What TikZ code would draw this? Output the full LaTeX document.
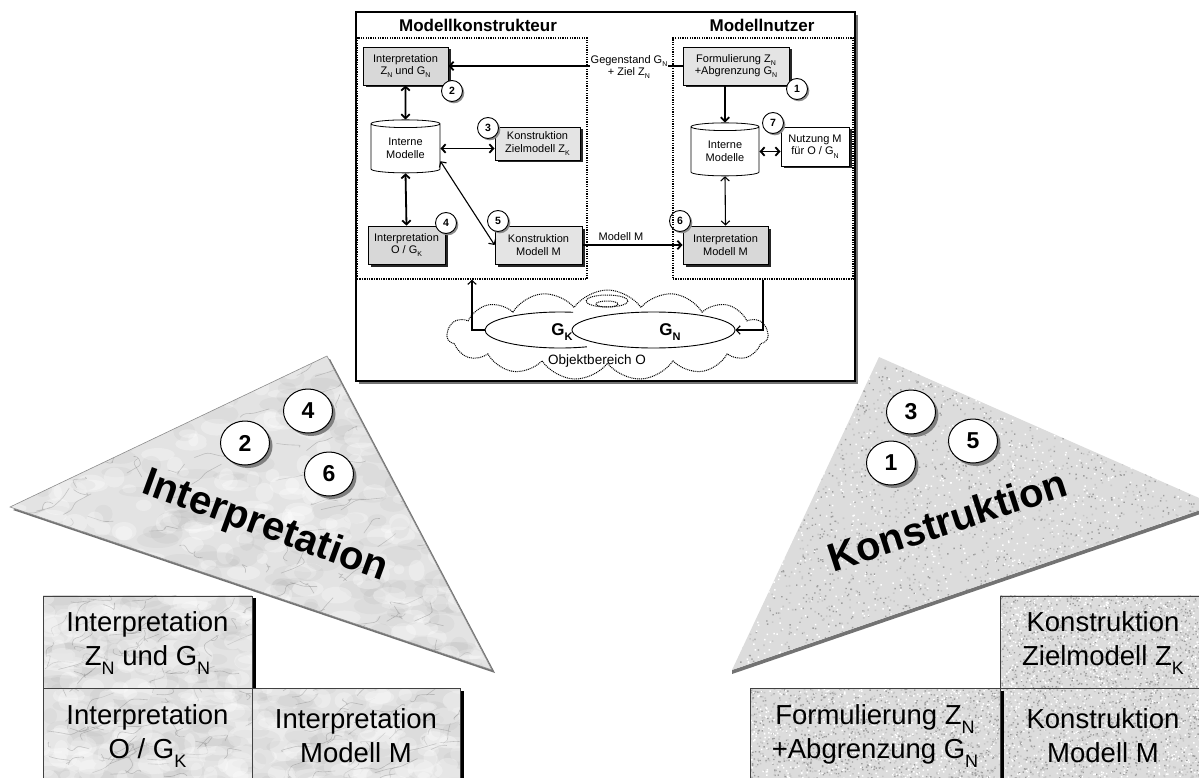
\documentclass[tikz,border=0pt]{standalone}
\usepackage{fontspec}
\setmainfont{Liberation Sans}
\usetikzlibrary{shapes.geometric,shapes.symbols,shadows,arrows.meta}

\definecolor{marblebase}{HTML}{E3E3E3}
\definecolor{granitebase}{HTML}{DCDCDC}
\definecolor{boxmarble}{HTML}{D8D8D8}
\definecolor{boxgranite}{HTML}{E4E4E4}

% lowered index letter in a given size
\newcommand{\lo}[2]{\raisebox{-0.3em}{\fontsize{#1}{#1}\selectfont #2}}

% marble texture inside the current clip: x0 y0 x1 y1 chunks (of 30 marks)
\newcommand{\marbletex}[5]{%
  \foreach \j in {1,...,#5}{%
    \fill[black!50, opacity=0.07] \foreach \k in {1,...,30} {({#1+rnd*(#3-#1)},{#2+rnd*(#4-#2)}) ellipse[x radius={6+16*rnd}, y radius={4+7*rnd}]};
    \fill[white, opacity=0.3] \foreach \k in {1,...,30} {({#1+rnd*(#3-#1)},{#2+rnd*(#4-#2)}) ellipse[x radius={5+12*rnd}, y radius={4+7*rnd}]};
    \draw[black!60, opacity=0.3, line width=0.6pt, line join=round, rounded corners=3pt] \foreach \k in {1,...,16} {({#1+rnd*(#3-#1)},{#2+rnd*(#4-#2)}) -- ++({24*rnd-6},{14*rnd-10}) -- ++({24*rnd-6},{14*rnd-10}) -- ++({24*rnd-6},{14*rnd-10})};
  }%
}
% granite texture inside the current clip: x0 y0 x1 y1 chunks (of 60 grains)
\newcommand{\granitetex}[5]{%
  \foreach \j in {1,...,#5}{%
    \fill[black!38] \foreach \k in {1,...,60} {({#1+rnd*(#3-#1)},{#2+rnd*(#4-#2)}) rectangle ++(1.4,1.4)};
    \fill[white] \foreach \k in {1,...,60} {({#1+rnd*(#3-#1)},{#2+rnd*(#4-#2)}) rectangle ++(1.5,1.5)};
    \fill[black!22] \foreach \k in {1,...,60} {({#1+rnd*(#3-#1)},{#2+rnd*(#4-#2)}) rectangle ++(1.6,1.6)};
  }%
}

\tikzset{
  frameline/.style={draw=black, line width=1.5pt, fill=white},
  dotline/.style={draw=black, line width=1.4pt, dash pattern=on 1.3pt off 1.1pt},
  title/.style={font=\fontsize{17}{17}\selectfont\bfseries, inner sep=0pt},
  smallbox/.style={rectangle, draw=black, line width=0.8pt, inner sep=1pt, align=center,
    font=\fontsize{11}{12.5}\selectfont,
    drop shadow={shadow xshift=2.5pt, shadow yshift=-2.5pt, fill=black!85, opacity=1}},
  num/.style={circle, draw=black, line width=0.9pt, fill=white, minimum size=21pt, inner sep=0pt,
    font=\fontsize{10.5}{10.5}\selectfont\bfseries,
    drop shadow={shadow xshift=1.8pt, shadow yshift=-1.8pt, fill=black!45, opacity=1}},
  bignum/.style={ellipse, draw=black, line width=1pt, fill=white, minimum width=49pt, minimum height=44pt,
    inner sep=0pt, font=\fontsize{23}{23}\selectfont\bfseries,
    drop shadow={shadow xshift=3pt, shadow yshift=-3pt, fill=black!50, opacity=1}},
  store/.style={cylinder, shape border rotate=90, aspect=0.2, draw=black, line width=0.8pt, fill=white,
    minimum width=69pt, minimum height=53pt, align=center, inner sep=0pt,
    font=\fontsize{11}{13}\selectfont},
  tip/.tip={Straight Barb[length=4pt,width=8.5pt]},
  arr/.style={line width=1.8pt, -tip},
  darr/.style={line width=1.8pt, tip-tip},
  thinarr/.style={line width=1.1pt, -tip},
  thindarr/.style={line width=1.1pt, tip-tip},
  lbl/.style={font=\fontsize{11}{12.5}\selectfont, align=center, inner sep=1pt},
  cloudy/.style={cloud, cloud puffs=15, cloud puff arc=110, aspect=3.6, draw=black, line width=1pt,
    dash pattern=on 1pt off 0.9pt, minimum width=321pt, minimum height=90pt, inner sep=0pt},
  cloudline/.style={draw=black, line width=1pt, dash pattern=on 1pt off 0.9pt},
  bigbox/.style={rectangle, draw=black!75, line width=0.8pt, align=center, inner sep=0pt,
    font=\fontsize{27.5}{34}\selectfont},
  bigword/.style={font=\fontsize{40}{40}\selectfont\bfseries, inner sep=0pt},
}

\begin{document}
\begin{tikzpicture}[x=1pt,y=-1pt]
\useasboundingbox (0,0) rectangle (1199,778);
\clip (0,0) rectangle (1199,778);
\pgfmathsetseed{4711}

% ---------------- Interpretation wedge ----------------
\fill[black!55] (330,359) -- (13,510) -- (495,673) -- cycle;
\fill[marblebase] (327,356) -- (10,507) -- (492,670) -- cycle;
\begin{scope}
  \clip (327,356) -- (10,507) -- (492,670) -- cycle;
  \marbletex{10}{356}{492}{670}{10}
\end{scope}
\draw[black!45, line width=0.6pt] (327,356) -- (10,507) -- (492,670) -- cycle;

% ---------------- Konstruktion wedge ----------------
\fill[black!55] (732,674) -- (1215,509) -- (1215,505) -- (732,670) -- cycle;
\fill[granitebase] (879,357) -- (1215,505) -- (732,670) -- cycle;
\begin{scope}
  \clip (879,357) -- (1215,505) -- (732,670) -- cycle;
  \granitetex{732}{357}{1215}{670}{24}
\end{scope}

% wedge labels
\node[bigword, rotate=-20] (interp) at (265,527) {Interpretation};
\node[bigword, rotate=18] (konst) at (947,520) {Konstruktion};

% step numbers on the wedges
\node[bignum] (i4) at (308,411) {4};
\node[bignum] (i2) at (245,443) {2};
\node[bignum] (i6) at (329,474) {6};
\node[bignum] (k3) at (911,412) {3};
\node[bignum] (k1) at (891,463) {1};
\node[bignum] (k5) at (973,441) {5};

% ---------------- Interpretation blocks ----------------
\fill[black] (47,598) rectangle (256,691);
\fill[marblebase] (43,595) rectangle (252,688);
\begin{scope}\clip (43,595) rectangle (252,688); \marbletex{43}{595}{252}{688}{3}\end{scope}
\node[bigbox, minimum width=209pt, minimum height=93pt] (ia) at (147.5,643)
  {Interpretation\\Z\lo{18}{N} und G\lo{18}{N}};
\fill[black] (256,691) rectangle (464,790);
\fill[marblebase] (43,688) rectangle (252,790);
\begin{scope}\clip (43,688) rectangle (252,790); \marbletex{43}{688}{252}{790}{3}\end{scope}
\node[bigbox, minimum width=209pt, minimum height=96pt] (ib) at (147.5,736)
  {Interpretation\\O / G\lo{18}{K}};
\fill[marblebase] (252,688) rectangle (460,790);
\begin{scope}\clip (252,688) rectangle (460,790); \marbletex{252}{688}{460}{790}{3}\end{scope}
\node[bigbox, minimum width=208pt, minimum height=96pt] (ic) at (356,736)
  {Interpretation\\Modell M};

% ---------------- Konstruktion blocks ----------------
\fill[granitebase] (1000,595) rectangle (1210,688);
\begin{scope}\clip (1000,595) rectangle (1210,688); \granitetex{1000}{595}{1210}{688}{10}\end{scope}
\node[bigbox, minimum width=206pt, minimum height=93pt] (ka) at (1103,643)
  {Konstruktion\\Zielmodell Z\lo{18}{K}};
\fill[granitebase] (1000,688) rectangle (1210,790);
\begin{scope}\clip (1000,688) rectangle (1210,790); \granitetex{1000}{688}{1210}{790}{10}\end{scope}
\node[bigbox, minimum width=206pt, minimum height=96pt] (kc) at (1103,736)
  {Konstruktion\\Modell M};
\fill[black] (754,691) rectangle (1004,790);
\fill[granitebase] (750,688) rectangle (1000,790);
\begin{scope}\clip (750,688) rectangle (1000,790); \granitetex{750}{688}{1000}{790}{12}\end{scope}
\node[bigbox, minimum width=250pt, minimum height=96pt] (kb) at (875,736)
  {Formulierung Z\lo{18}{N}\\+Abgrenzung G\lo{18}{N}};

% ---------------- process frame ----------------
\fill[black!55] (359,15) rectangle (858,384);
\draw[frameline] (356,12) rectangle (855,381);

\node[title] (tk) at (478,25) {Modellkonstrukteur};
\node[title] (tn) at (762,25) {Modellnutzer};

% Modellkonstrukteur side
\node[smallbox, fill=boxmarble, minimum width=85pt, minimum height=38pt] (b2) at (405.5,66)
  {Interpretation\\Z\lo{7}{N} und G\lo{7}{N}};
\node[store] (cylL) at (405.5,148.5) {Interne\\Modelle};
\node[smallbox, fill=boxgranite, minimum width=85pt, minimum height=33pt] (b3) at (537.5,143.5)
  {Konstruktion\\Zielmodell Z\lo{7}{K}};
\node[smallbox, fill=boxmarble, minimum width=77pt, minimum height=38pt] (b4) at (406.5,245)
  {Interpretation\\O / G\lo{7}{K}};
\node[smallbox, fill=boxgranite, minimum width=87pt, minimum height=38pt] (b5) at (538.5,245)
  {Konstruktion\\Modell M};

% Modellnutzer side
\node[smallbox, fill=boxgranite, minimum width=106pt, minimum height=38pt] (b1) at (736,66)
  {Formulierung Z\lo{7}{N}\\+Abgrenzung G\lo{7}{N}};
\node[store, minimum width=68pt] (cylR) at (725,151.5) {Interne\\Modelle};
\node[smallbox, fill=white, minimum width=68pt, minimum height=39pt] (b7) at (815,146.5)
  {Nutzung M\\für O / G\lo{7}{N}};
\node[smallbox, fill=boxmarble, minimum width=85pt, minimum height=38pt] (b6) at (725.5,245)
  {Interpretation\\Modell M};

% flows
\draw[darr] (b2.south) -- (cylL.north);
\draw[darr] (cylL.east) -- (cylL.east -| b3.west);
\draw[darr] (cylL.south) -- (b4.north);
\draw[thindarr] (cylL.-20) -- (b5.west);
\draw[arr] (cylR.north |- b1.south) -- (cylR.north);
\draw[darr] (cylR.east) -- (cylR.east -| b7.west);
\draw[thindarr] (cylR.south) -- (b6.north);
\draw[arr] (b5.east) -- (b6.west);
\node[lbl] (lm) at (621,237) {Modell M};
\draw[arr] (b1.west) -- (b2.east);
\node[lbl, fill=white] (lg) at (629,67) {Gegenstand G\lo{7}{N}\\+ Ziel Z\lo{7}{N}};

% step numbers
\node[num] (c2) at (452,91) {2};
\node[num] (c3) at (488,128) {3};
\node[num] (c4) at (446,223) {4};
\node[num] (c5) at (498,221) {5};
\node[num] (c1) at (797,89) {1};
\node[num] (c7) at (773,123) {7};
\node[num] (c6) at (680,221) {6};

% role areas
\node[dotline, rectangle, minimum width=230pt, minimum height=241pt, inner sep=0pt] (dotL) at (472,158.5) {};
\node[dotline, rectangle, minimum width=180pt, minimum height=241pt, inner sep=0pt] (dotR) at (763,158.5) {};

% object domain
\node[cloudy] (cloud) at (607.5,335) {};
\draw[cloudline] (607,301) ellipse[x radius=21, y radius=6];
\draw[cloudline] (607,304) ellipse[x radius=11, y radius=3];
\node[ellipse, draw=black, line width=0.9pt, minimum width=163pt, minimum height=36pt, inner sep=0pt] (gn) at (653.5,330) {};
\node[ellipse, minimum width=150pt, minimum height=36pt, inner sep=0pt] (gk) at (560,330) {};
\draw[line width=0.9pt] (560,330) ++(69:75 and 18) arc[start angle=69, end angle=280, x radius=75, y radius=18];
\node[font=\fontsize{17}{17}\selectfont\bfseries, inner sep=0pt] (lgk) at (562,332) {G\lo{11}{K}};
\node[font=\fontsize{17}{17}\selectfont\bfseries, inner sep=0pt] (lgn) at (670,332) {G\lo{11}{N}};
\node[font=\fontsize{13.5}{13.5}\selectfont, inner sep=0pt] (lo) at (597,361) {Objektbereich O};
\draw[thinarr] (gk.west) -| (dotL.south);
\draw[thinarr] (dotR.south) |- (gn.east);
\end{tikzpicture}
\end{document}
